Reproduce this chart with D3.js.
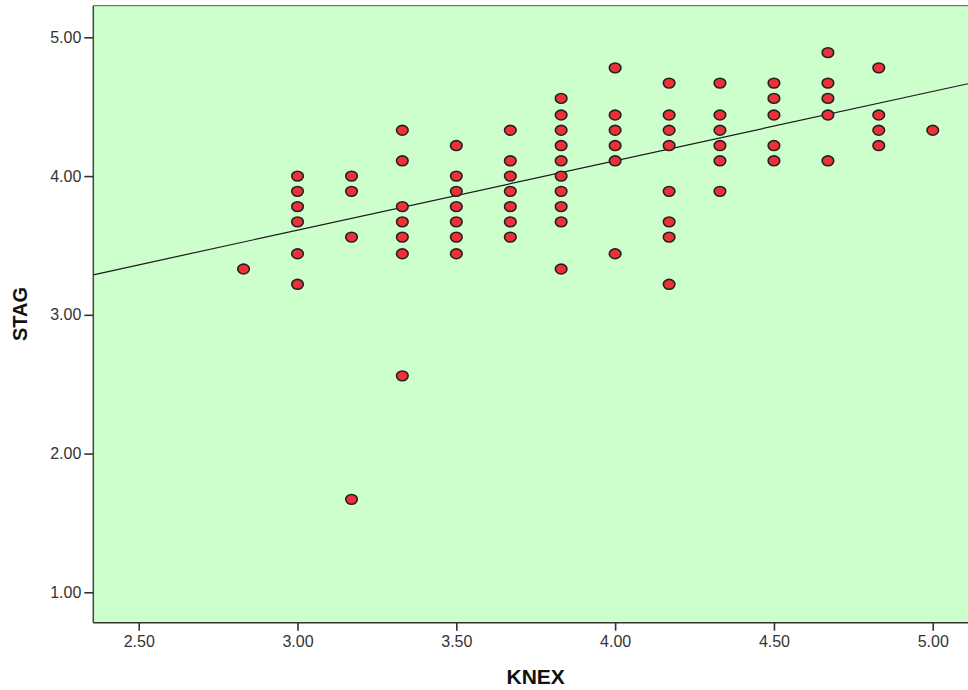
<!DOCTYPE html>
<html>
<head>
<meta charset="utf-8">
<script src="https://cdn.jsdelivr.net/npm/d3@7"></script>
<style>
  html, body { margin: 0; padding: 0; background: #ffffff; }
  svg { display: block; font-family: "Liberation Sans", Arial, sans-serif; }
</style>
</head>
<body>
<svg id="chart" width="968" height="690"></svg>
<script>
// ---- Data ----
const knex = [
  2.83,
  3.00, 3.00, 3.00, 3.00, 3.00, 3.00,
  3.17, 3.17, 3.17, 3.17,
  3.33, 3.33, 3.33, 3.33, 3.33, 3.33, 3.33,
  3.50, 3.50, 3.50, 3.50, 3.50, 3.50, 3.50,
  3.67, 3.67, 3.67, 3.67, 3.67, 3.67, 3.67,
  3.83, 3.83, 3.83, 3.83, 3.83, 3.83, 3.83, 3.83, 3.83, 3.83,
  4.00, 4.00, 4.00, 4.00, 4.00, 4.00,
  4.17, 4.17, 4.17, 4.17, 4.17, 4.17, 4.17, 4.17,
  4.33, 4.33, 4.33, 4.33, 4.33, 4.33,
  4.50, 4.50, 4.50, 4.50, 4.50,
  4.67, 4.67, 4.67, 4.67, 4.67,
  4.83, 4.83, 4.83, 4.83,
  5.00
];
const stag = [
  3.33,
  4.00, 3.89, 3.78, 3.67, 3.44, 3.22,
  4.00, 3.89, 3.56, 1.67,
  4.33, 4.11, 3.78, 3.67, 3.56, 3.44, 2.56,
  4.22, 4.00, 3.89, 3.78, 3.67, 3.56, 3.44,
  4.33, 4.11, 4.00, 3.89, 3.78, 3.67, 3.56,
  4.56, 4.44, 4.33, 4.22, 4.11, 4.00, 3.89, 3.78, 3.67, 3.33,
  4.78, 4.44, 4.33, 4.22, 4.11, 3.44,
  4.67, 4.44, 4.33, 4.22, 3.89, 3.67, 3.56, 3.22,
  4.67, 4.44, 4.33, 4.22, 4.11, 3.89,
  4.67, 4.56, 4.44, 4.22, 4.11,
  4.89, 4.67, 4.56, 4.44, 4.11,
  4.78, 4.44, 4.33, 4.22,
  4.33
];
const xTicks = [2.50, 3.00, 3.50, 4.00, 4.50, 5.00];
const yTicks = [1.00, 2.00, 3.00, 4.00, 5.00];
const fitIntercept = 2.11;   // fitted line: STAG = a + b * KNEX
const fitSlope = 0.50;
const xTitle = "KNEX";
const yTitle = "STAG";

// ---- Layout ----
const svg = d3.select("#chart");
const plot = { left: 93.3, top: 5.7, right: 968, bottom: 622.7 };

const x = d3.scaleLinear().domain([2.357, 5.111]).range([plot.left, plot.right]);
const y = d3.scaleLinear().domain([0.781, 5.228]).range([plot.bottom, plot.top]);

svg.append("defs").append("clipPath").attr("id", "clip")
  .append("rect")
  .attr("x", plot.left).attr("y", plot.top)
  .attr("width", plot.right - plot.left).attr("height", plot.bottom - plot.top);

// background
svg.append("rect")
  .attr("x", plot.left).attr("y", plot.top)
  .attr("width", plot.right - plot.left).attr("height", plot.bottom - plot.top)
  .attr("fill", "#ccffcc");

// regression line
const [x0, x1] = x.domain();
svg.append("line")
  .attr("clip-path", "url(#clip)")
  .attr("x1", x(x0)).attr("y1", y(fitIntercept + fitSlope * x0))
  .attr("x2", x(x1)).attr("y2", y(fitIntercept + fitSlope * x1))
  .attr("stroke", "#1a1a1a").attr("stroke-width", 1.2);

// points
svg.append("g").attr("clip-path", "url(#clip)")
  .selectAll("ellipse")
  .data(knex.map((k, i) => ({ k, s: stag[i] })))
  .join("ellipse")
  .attr("cx", d => x(d.k))
  .attr("cy", d => y(d.s))
  .attr("rx", 5.8).attr("ry", 4.9)
  .attr("fill", "#ee3038")
  .attr("stroke", "#222")
  .attr("stroke-width", 1.6);

// border lines
svg.append("line").attr("x1", plot.left).attr("x2", plot.right)
  .attr("y1", plot.top).attr("y2", plot.top)
  .attr("stroke", "#777").attr("stroke-width", 1.3);
svg.append("line").attr("x1", plot.left).attr("x2", plot.left)
  .attr("y1", plot.top).attr("y2", plot.bottom)
  .attr("stroke", "#444").attr("stroke-width", 1.5);
svg.append("line").attr("x1", plot.left).attr("x2", plot.right)
  .attr("y1", plot.bottom).attr("y2", plot.bottom)
  .attr("stroke", "#333").attr("stroke-width", 1.5);

// axes
const fmt = d3.format(".2f");
const gx = svg.append("g").attr("transform", `translate(0,${plot.bottom})`)
  .call(d3.axisBottom(x).tickValues(xTicks).tickFormat(fmt).tickSize(8).tickSizeOuter(0).tickPadding(5));
const gy = svg.append("g").attr("transform", `translate(${plot.left},0)`)
  .call(d3.axisLeft(y).tickValues(yTicks).tickFormat(fmt).tickSize(9).tickSizeOuter(0).tickPadding(3));
[gx, gy].forEach(g => {
  g.select(".domain").remove();
  g.selectAll(".tick line").attr("stroke", "#333").attr("stroke-width", 1.6);
  g.selectAll(".tick text").attr("fill", "#333")
    .style("font-size", "16px").style("font-family", "\"Liberation Sans\", Arial, sans-serif");
});

// axis titles
svg.append("text")
  .attr("x", (plot.left + plot.right) / 2 + 5).attr("y", 684)
  .attr("text-anchor", "middle")
  .style("font-size", "21px").style("font-weight", "bold")
  .attr("fill", "#111")
  .text(xTitle);
svg.append("text")
  .attr("transform", `translate(27,314) rotate(-90)`)
  .attr("text-anchor", "middle")
  .style("font-size", "20px").style("font-weight", "bold")
  .attr("fill", "#111")
  .text(yTitle);
</script>
</body>
</html>
